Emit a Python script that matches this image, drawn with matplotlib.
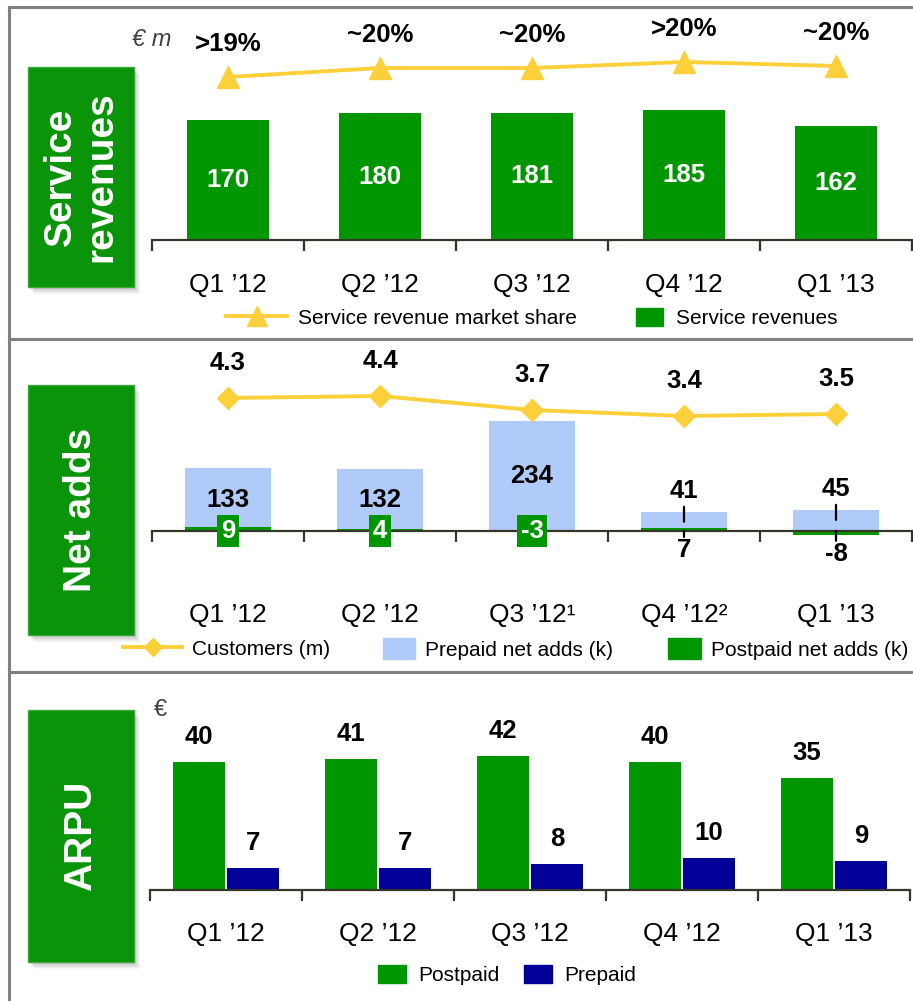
import numpy as np
import matplotlib
matplotlib.use('Agg')
import matplotlib.pyplot as plt
from matplotlib.lines import Line2D
from matplotlib.patches import Patch, Rectangle
from matplotlib.transforms import offset_copy

plt.rcParams['font.family'] = ['Liberation Sans', 'DejaVu Sans']

# Data
quarters = ['Q1 ’12', 'Q2 ’12', 'Q3 ’12', 'Q4 ’12', 'Q1 ’13']
quarters_net = ['Q1 ’12', 'Q2 ’12', 'Q3 ’12¹', 'Q4 ’12²', 'Q1 ’13']
service_rev = [170, 180, 181, 185, 162]
share_level = [19.3, 19.75, 19.75, 20.05, 19.85]   # approx. market share, %
share_labels = ['>19%', '~20%', '~20%', '>20%', '~20%']
customers = [4.3, 4.4, 3.7, 3.4, 3.5]
prepaid_adds = [133, 132, 234, 41, 45]
postpaid_adds = [9, 4, -3, 7, -8]
arpu_post = [40, 41, 42, 40, 35]
arpu_pre = [7, 7, 8, 10, 9]

# Colours
GREEN = '#009600'
BOX_GREEN = '#0a940a'
YELLOW = '#fcd03a'
LIGHT_BLUE = '#b0cbf9'
NAVY = '#000099'
AXIS = '#35352a'
FRAME = '#808080'

W, H = 913, 1001
LEG_FS = 15
EM = LEG_FS * 100 / 72
VAL_FS = 18.5


def fx(px):
    return px / W


def fy(py):
    return 1 - py / H


def make_axes(fig, top, bottom, base, scale, left=152, right=912):
    ax = fig.add_axes([fx(left), fy(bottom), (right - left) / W, (bottom - top) / H])
    ax.set_xlim(-0.5, 4.5)
    ax.set_ylim(-(bottom - base) / scale, (base - top) / scale)
    for s in ['top', 'left', 'right']:
        ax.spines[s].set_visible(False)
    ax.spines['bottom'].set_position(('data', 0))
    ax.spines['bottom'].set_color(AXIS)
    ax.spines['bottom'].set_linewidth(1.6)
    ax.set_yticks([])
    ax.patch.set_visible(False)
    return ax


def set_xlabels(ax, labels, pad):
    ax.set_xticks(np.arange(-0.5, 5, 1.0))
    ax.set_xticklabels([])
    ax.set_xticks(np.arange(len(labels)), labels=labels, minor=True)
    ax.tick_params(axis='x', which='major', length=8, width=1.6, color=AXIS, direction='out')
    ax.tick_params(axis='x', which='minor', length=0, pad=pad, labelsize=19)


def twin(ax, ref_val, ref_px, top, bottom, scale):
    tw = ax.twinx()
    tw.set_ylim(ref_val - (bottom - ref_px) / scale, ref_val + (ref_px - top) / scale)
    for s in tw.spines.values():
        s.set_visible(False)
    tw.set_yticks([])
    return tw


def label_box(fig, top, bottom, text, left=28, right=134):
    w, h = right - left, bottom - top
    for k in range(1, 8):
        fig.patches.append(Rectangle((fx(left + k * 0.8), fy(bottom + k)), fx(w), h / H,
                                     transform=fig.transFigure, color='black',
                                     alpha=0.035, lw=0))
    fig.patches.append(Rectangle((fx(left), fy(bottom)), fx(w), h / H,
                                 transform=fig.transFigure, facecolor=BOX_GREEN,
                                 edgecolor='#3aa83a', lw=1))
    fig.text(fx(left + w / 2), fy(top + h / 2), text, rotation=90, color='white',
             fontsize=28, fontweight='bold', ha='center', va='center',
             multialignment='center', linespacing=1.15)


def legend_item(fig, handle, label, x, y, hl, gap, hh=20):
    fig.legend(handles=[handle], labels=[label], loc='center left',
               bbox_to_anchor=(fx(x), fy(y)), frameon=False, fontsize=LEG_FS,
               handlelength=hl / EM, handleheight=hh / EM, handletextpad=gap / EM,
               borderpad=0, borderaxespad=0)


def main():
    fig = plt.figure(figsize=(W / 100, H / 100), dpi=100)
    x = np.arange(len(quarters))

    # panel frames
    for y in [7, 339, 672]:
        fig.lines.append(Line2D([fx(9), 1], [fy(y), fy(y)], transform=fig.transFigure,
                                color=FRAME, lw=2.2))
    fig.lines.append(Line2D([fx(9), fx(9)], [fy(7), 0], transform=fig.transFigure,
                            color=FRAME, lw=2.2))

    # ---- Service revenues ----
    top, bottom, base = 10, 250, 240
    ax1 = make_axes(fig, top, bottom, base, 0.704)
    bars = ax1.bar(x, service_rev, width=0.54, color=GREEN)
    ax1.bar_label(bars, label_type='center', color='white', fontsize=VAL_FS, fontweight='bold')
    set_xlabels(ax1, quarters, 24)
    tw1 = twin(ax1, share_level[0], 77, top, bottom, 20)
    tw1.plot(x, share_level, color=YELLOW, lw=2.8, marker='^', ms=16)
    for i, (v, lab) in enumerate(zip(share_level, share_labels)):
        tw1.annotate(lab, (i, v), xytext=(0, 33), textcoords='offset pixels',
                     ha='center', va='center', fontsize=VAL_FS, fontweight='bold')
    fig.text(fx(152), fy(40), '€ m', style='italic', fontsize=17, color='#404040',
             ha='center', va='center')
    label_box(fig, 67, 287, 'Service\nrevenues')
    legend_item(fig, Line2D([], [], color=YELLOW, lw=2.8, marker='^', ms=14),
                'Service revenue market share', 226, 318, 61, 11)
    legend_item(fig, Patch(color=GREEN), 'Service revenues', 636, 318, 27, 13)

    # ---- Net adds ----
    top, bottom, base, sc = 345, 600, 531, 0.47
    ax2 = make_axes(fig, top, bottom, base, sc)
    ax2.bar(x, prepaid_adds, width=0.566, color=LIGHT_BLUE)
    ax2.bar(x, postpaid_adds, width=0.566, color=GREEN)
    set_xlabels(ax2, quarters_net, 52)
    up = offset_copy(ax2.transData, fig=fig, x=0, y=5, units='dots')
    for i, (pre, post) in enumerate(zip(prepaid_adds, postpaid_adds)):
        inside = pre > 100
        if inside:
            ax2.text(i, pre / 2, str(pre), ha='center', va='center',
                     fontsize=VAL_FS, fontweight='bold')
            ax2.text(i, 0, str(post), ha='center', va='center', color='white',
                     fontsize=VAL_FS, fontweight='bold', zorder=5,
                     bbox=dict(boxstyle='square,pad=0.14', facecolor=GREEN, edgecolor='none'))
        else:
            ax2.annotate(str(pre), (i, pre), xytext=(0, 21), textcoords='offset pixels',
                         ha='center', va='center', fontsize=VAL_FS, fontweight='bold')
            low = min(0, post)
            ax2.annotate(str(post), (i, low), xytext=(0, -19), textcoords='offset pixels',
                         ha='center', va='center', fontsize=VAL_FS, fontweight='bold')
            # small leader lines
            down = offset_copy(ax2.transData, fig=fig, x=0, y=-10, units='dots')
            ax2.annotate('', xy=(i, pre), xycoords=down, xytext=(i, pre), textcoords=up,
                         arrowprops=dict(arrowstyle='-', lw=1.6, color='black',
                                         shrinkA=0, shrinkB=0))
            below = offset_copy(ax2.transData, fig=fig, x=0, y=-6, units='dots')
            ax2.annotate('', xy=(i, low), xycoords=below, xytext=(i, 0),
                         textcoords='data',
                         arrowprops=dict(arrowstyle='-', lw=1.6, color='black',
                                         shrinkA=0, shrinkB=0))
    tw2 = twin(ax2, customers[0], 398, top, bottom, 20)
    tw2.plot(x, customers, color=YELLOW, lw=2.8, marker='D', ms=11)
    for i, v in enumerate(customers):
        tw2.annotate(f'{v:.1f}', (i, v), xytext=(0, 35), textcoords='offset pixels',
                     ha='center', va='center', fontsize=VAL_FS, fontweight='bold')
    label_box(fig, 385, 635, 'Net adds')
    legend_item(fig, Line2D([], [], color=YELLOW, lw=2.8, marker='D', ms=9),
                'Customers (m)', 123, 649, 59, 10)
    legend_item(fig, Patch(color=LIGHT_BLUE), 'Prepaid net adds (k)', 383, 649, 32, 10, 24)
    legend_item(fig, Patch(color=GREEN), 'Postpaid net adds (k)', 668, 649, 33, 10, 24)

    # ---- ARPU ----
    top, bottom, base = 700, 900, 890
    ax3 = make_axes(fig, top, bottom, base, 3.2, left=150, right=910)
    w = 0.342
    b_post = ax3.bar(x - 0.178, arpu_post, width=w, color=GREEN)
    b_pre = ax3.bar(x + 0.178, arpu_pre, width=w, color=NAVY)
    for bars in (b_post, b_pre):
        for b in bars:
            ax3.annotate(f'{b.get_height():.0f}', (b.get_x() + b.get_width() / 2, b.get_height()),
                         xytext=(0, 25), textcoords='offset pixels', ha='center',
                         va='center', fontsize=VAL_FS, fontweight='bold')
    set_xlabels(ax3, quarters, 23)
    fig.text(fx(160), fy(710), '€', fontsize=17, color='#404040', ha='center', va='center')
    label_box(fig, 710, 962, 'ARPU')
    legend_item(fig, Patch(color=GREEN), 'Postpaid', 378, 975, 28, 12)
    legend_item(fig, Patch(color=NAVY), 'Prepaid', 524, 975, 28, 12)

    fig.savefig('out.png', dpi=100)


if __name__ == '__main__':
    main()
